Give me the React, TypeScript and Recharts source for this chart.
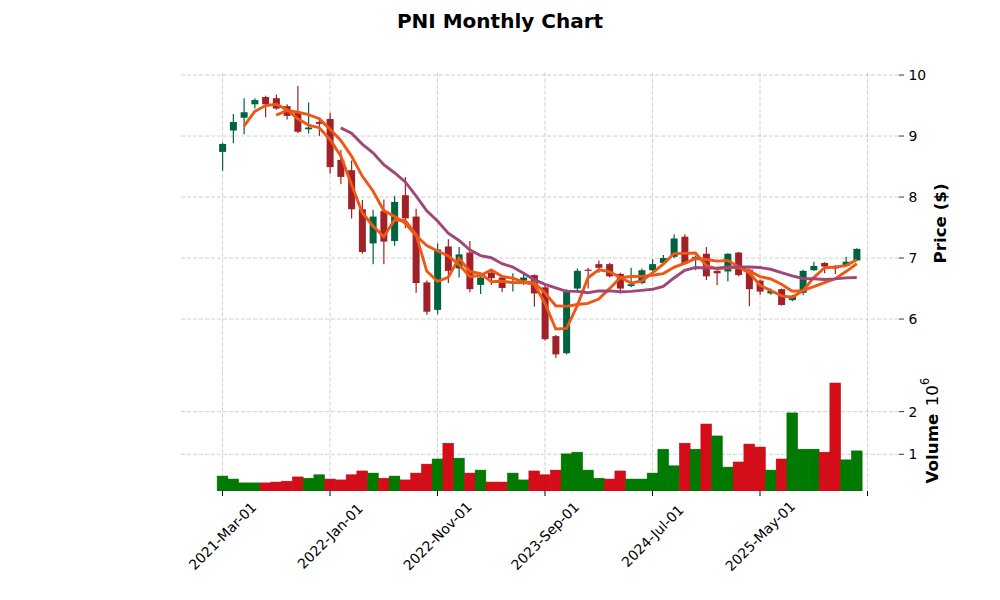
import React from 'react';
import { ComposedChart, Bar, Line, XAxis, YAxis, CartesianGrid } from 'recharts';

// ---------- data ----------
const months = [
  '2021-Mar-01', '2021-Apr-01', '2021-May-01', '2021-Jun-01', '2021-Jul-01', '2021-Aug-01', '2021-Sep-01', '2021-Oct-01', '2021-Nov-01', '2021-Dec-01',
  '2022-Jan-01', '2022-Feb-01', '2022-Mar-01', '2022-Apr-01', '2022-May-01', '2022-Jun-01', '2022-Jul-01', '2022-Aug-01', '2022-Sep-01', '2022-Oct-01', '2022-Nov-01', '2022-Dec-01',
  '2023-Jan-01', '2023-Feb-01', '2023-Mar-01', '2023-Apr-01', '2023-May-01', '2023-Jun-01', '2023-Jul-01', '2023-Aug-01', '2023-Sep-01', '2023-Oct-01', '2023-Nov-01', '2023-Dec-01',
  '2024-Jan-01', '2024-Feb-01', '2024-Mar-01', '2024-Apr-01', '2024-May-01', '2024-Jun-01', '2024-Jul-01', '2024-Aug-01', '2024-Sep-01', '2024-Oct-01', '2024-Nov-01', '2024-Dec-01',
  '2025-Jan-01', '2025-Feb-01', '2025-Mar-01', '2025-Apr-01', '2025-May-01', '2025-Jun-01', '2025-Jul-01', '2025-Aug-01', '2025-Sep-01', '2025-Oct-01', '2025-Nov-01', '2025-Dec-01',
  '2026-Jan-01', '2026-Feb-01',
];

const opens = [
  8.74, 9.09, 9.30, 9.52, 9.64, 9.62, 9.49, 9.40, 9.11, 9.23,
  9.28, 8.61, 8.44, 7.80, 7.24, 7.77, 7.28, 8.03, 7.68, 6.60,
  6.15, 7.19, 6.83, 7.09, 6.56, 6.76, 6.68, 6.59, 6.63, 6.72,
  6.52, 5.72, 5.44, 6.50, 6.81, 6.90, 6.90, 6.74, 6.54, 6.59,
  6.80, 6.92, 7.02, 7.35, 6.97, 7.07, 6.79, 6.78, 7.09, 6.81,
  6.63, 6.42, 6.49, 6.31, 6.43, 6.80, 6.92, 6.87, 6.87, 6.96,
];
const highs = [
  8.89, 9.36, 9.62, 9.62, 9.66, 9.68, 9.52, 9.82, 9.55, 9.30,
  9.38, 8.77, 8.60, 7.95, 7.79, 7.96, 8.02, 8.33, 7.81, 6.63,
  7.24, 7.31, 7.18, 7.28, 6.70, 6.80, 6.71, 6.75, 6.75, 6.73,
  6.56, 5.74, 6.49, 6.83, 6.84, 6.96, 6.92, 6.76, 6.84, 6.83,
  6.98, 7.05, 7.39, 7.39, 7.04, 7.18, 6.80, 7.08, 7.10, 6.83,
  6.65, 6.50, 6.50, 6.40, 6.81, 6.94, 6.93, 6.88, 7.02, 7.16,
];
const lows = [
  8.43, 8.88, 9.03, 9.45, 9.31, 9.43, 9.27, 9.05, 9.04, 9.00,
  8.38, 8.21, 7.65, 7.07, 6.90, 6.90, 7.20, 7.49, 6.43, 6.07,
  6.08, 6.59, 6.68, 6.44, 6.41, 6.56, 6.44, 6.45, 6.56, 6.20,
  5.65, 5.36, 5.42, 6.46, 6.50, 6.76, 6.68, 6.42, 6.52, 6.57,
  6.78, 6.90, 7.00, 6.89, 6.80, 6.64, 6.56, 6.62, 6.70, 6.21,
  6.40, 6.40, 6.22, 6.29, 6.39, 6.79, 6.75, 6.74, 6.86, 6.95,
];
const closes = [
  8.87, 9.23, 9.39, 9.59, 9.52, 9.45, 9.33, 9.07, 9.14, 9.20,
  8.49, 8.33, 7.80, 7.10, 7.68, 7.27, 7.92, 7.65, 6.59, 6.12,
  7.14, 6.79, 7.06, 6.49, 6.68, 6.67, 6.51, 6.61, 6.68, 6.42,
  5.67, 5.42, 6.45, 6.79, 6.79, 6.84, 6.70, 6.50, 6.57, 6.80,
  6.90, 7.00, 7.32, 6.91, 7.02, 6.70, 6.75, 7.07, 6.72, 6.49,
  6.45, 6.46, 6.23, 6.38, 6.79, 6.87, 6.86, 6.83, 6.94, 7.15,
];
// volume in millions of shares
const volumes = [
  0.49, 0.42, 0.33, 0.33, 0.33, 0.35, 0.37, 0.47, 0.44, 0.52,
  0.42, 0.40, 0.52, 0.61, 0.56, 0.44, 0.49, 0.40, 0.56, 0.77,
  0.89, 1.26, 0.91, 0.56, 0.63, 0.35, 0.35, 0.56, 0.40, 0.61,
  0.52, 0.63, 1.01, 1.05, 0.63, 0.44, 0.42, 0.61, 0.42, 0.42,
  0.56, 1.12, 0.73, 1.26, 1.12, 1.71, 1.43, 0.70, 0.82, 1.24,
  1.17, 0.63, 0.89, 1.97, 1.12, 1.12, 1.05, 2.67, 0.87, 1.08,
];

const xTicks = [0, 10, 20, 30, 40, 50, 60];
const priceTicks = [6, 7, 8, 9, 10];
const volumeTicks = [1, 2];
const maWindows = [3, 6, 12];

// ---------- style ----------
const FONT = '"DejaVu Sans", sans-serif';
const UP = '#006340';
const DOWN = '#a02128';
const VOL_UP = '#007a00';
const VOL_DOWN = '#d50d18';
const MA_COLORS = ['#ef5714', '#ef5714', '#9f4878'];
const GRID = '#c4c4c4';
const X_DOMAIN: [number, number] = [-3.86, 62.93];
const PRICE_DOMAIN: [number, number] = [5.14, 10.04];
const VOL_DOMAIN: [number, number] = [0.14, 2.94];
const TICK_FONT = 13.9;

const movingAverage = (vals: number[], w: number, i: number) => {
  if (i < w - 1) return null;
  let s = 0;
  for (let k = i - w + 1; k <= i; k++) s += vals[k];
  return s / w;
};

const rows = months.map((m, i) => ({
  i,
  date: m,
  open: opens[i],
  high: highs[i],
  low: lows[i],
  close: closes[i],
  vol: volumes[i],
  volUp: i === 0 ? closes[i] >= opens[i] : closes[i] >= closes[i - 1],
  ma0: movingAverage(closes, maWindows[0], i),
  ma1: movingAverage(closes, maWindows[1], i),
  ma2: movingAverage(closes, maWindows[2], i),
}));

const scaleOf = (axis: any) => {
  const s = axis && axis.scale;
  if (!s) return null;
  if (typeof s === 'function') return s;
  if (typeof s.map === 'function') return (v: number) => s.map(v);
  return null;
};

const makeHGen = (ticks: number[], domain: [number, number]) => (p: any) => {
  const sc = scaleOf(p.yAxis);
  if (sc) return ticks.map((t) => sc(t));
  const { top, height } = p.offset;
  return ticks.map((t) => top + ((domain[1] - t) / (domain[1] - domain[0])) * height);
};
const vGen = (p: any) => {
  const sc = scaleOf(p.xAxis);
  if (sc) return xTicks.map((t) => sc(t));
  const { left, width } = p.offset;
  return xTicks.map((t) => left + ((t - X_DOMAIN[0]) / (X_DOMAIN[1] - X_DOMAIN[0])) * width);
};

const Candle = (props: any) => {
  const { x, y, width, height, payload } = props;
  if (!payload) return null;
  const { open, close, high, low } = payload;
  const color = close >= open ? UP : DOWN;
  const ppu = height / (high - low);
  const cx = x + width / 2;
  const top = y + (high - Math.max(open, close)) * ppu;
  const bh = Math.max(Math.abs(close - open) * ppu, 1.2);
  return (
    <g>
      <line x1={cx} x2={cx} y1={y} y2={y + height} stroke={color} strokeWidth={1.2} />
      <rect x={x} y={top} width={width} height={bh} fill={color} />
    </g>
  );
};

const VolBar = (props: any) => {
  const { x, y, width, height, payload } = props;
  if (!payload) return null;
  const up = payload.volUp;
  return (
    <rect
      x={x}
      y={y}
      width={width}
      height={height}
      fill={up ? VOL_UP : VOL_DOWN}
      stroke={up ? '#006a00' : '#b80a14'}
      strokeWidth={0.5}
    />
  );
};

const DateTick = (props: any) => {
  const { x, payload } = props;
  const idx = payload.value;
  const label = months[idx];
  if (!label) return null;
  return (
    <text
      transform={`translate(${x},536) rotate(-45)`}
      textAnchor="middle"
      dominantBaseline="central"
      fontSize={TICK_FONT}
      fontFamily={FONT}
      fill="#000"
    >
      {label}
    </text>
  );
};

const tickStyle = { fontSize: TICK_FONT, fontFamily: FONT, fill: '#000' };

export default function App() {
  return (
    <div style={{ position: 'absolute', left: 0, top: 0, width: 1000, height: 600, background: '#fff' }}>
      {/* price panel */}
      <div style={{ position: 'absolute', left: 0, top: 0 }}>
        <ComposedChart
          width={1000}
          height={372}
          data={rows}
          margin={{ top: 72.6, right: 0, bottom: 0.5, left: 181 }}
        >
          <CartesianGrid
            stroke={GRID}
            strokeWidth={0.8}
            strokeDasharray="4 2"
            horizontalCoordinatesGenerator={makeHGen(priceTicks, PRICE_DOMAIN)}
            verticalCoordinatesGenerator={vGen}
          />
          <XAxis
            dataKey="i"
            type="number"
            domain={X_DOMAIN}
            allowDataOverflow
            ticks={xTicks}
            interval={0}
            height={0}
            tick={false}
            tickLine={false}
            axisLine={false}
          />
          <YAxis
            orientation="right"
            type="number"
            domain={PRICE_DOMAIN}
            allowDataOverflow
            ticks={priceTicks}
            interval={0}
            width={101}
            axisLine={false}
            tickLine={{ stroke: '#000', strokeWidth: 0.8 }}
            tickSize={5}
            tickMargin={4.5}
            tick={tickStyle}
          />
          <Bar
            dataKey={(d: any) => [d.low, d.high]}
            barSize={7}
            shape={<Candle />}
            isAnimationActive={false}
          />
          {maWindows.map((w, k) => (
            <Line
              key={w}
              dataKey={`ma${k}`}
              type="linear"
              stroke={MA_COLORS[k]}
              strokeWidth={2.9}
              dot={false}
              activeDot={false}
              connectNulls={false}
              isAnimationActive={false}
            />
          ))}
        </ComposedChart>
      </div>

      {/* volume panel */}
      <div style={{ position: 'absolute', left: 0, top: 0 }}>
        <ComposedChart
          width={1000}
          height={600}
          data={rows}
          margin={{ top: 371.5, right: 0, bottom: 0, left: 181 }}
        >
          <CartesianGrid
            stroke={GRID}
            strokeWidth={0.8}
            strokeDasharray="4 2"
            horizontalCoordinatesGenerator={makeHGen(volumeTicks, VOL_DOMAIN)}
            verticalCoordinatesGenerator={vGen}
          />
          <XAxis
            dataKey="i"
            type="number"
            domain={X_DOMAIN}
            allowDataOverflow
            ticks={xTicks}
            interval={0}
            height={109}
            axisLine={false}
            tickLine={{ stroke: '#000', strokeWidth: 1 }}
            tickSize={5}
            tick={<DateTick />}
          />
          <YAxis
            orientation="right"
            type="number"
            domain={VOL_DOMAIN}
            allowDataOverflow
            ticks={volumeTicks}
            interval={0}
            width={101}
            axisLine={false}
            tickLine={{ stroke: '#000', strokeWidth: 0.8 }}
            tickSize={5}
            tickMargin={4.5}
            tick={tickStyle}
          />
          <Bar dataKey="vol" barSize={10.75} shape={<VolBar />} isAnimationActive={false} />
        </ComposedChart>
      </div>

      {/* titles and axis labels */}
      <svg
        width={1000}
        height={600}
        style={{ position: 'absolute', left: 0, top: 0, pointerEvents: 'none' }}
      >
        <text x={500} y={27.7} textAnchor="middle" fontSize={20} fontWeight="bold" fontFamily={FONT} fill="#000">
          PNI Monthly Chart
        </text>
        <text
          transform="translate(940,223.5) rotate(-90)"
          textAnchor="middle"
          dominantBaseline="central"
          fontSize={16.7}
          fontWeight="bold"
          fontFamily={FONT}
          fill="#000"
        >
          Price ($)
        </text>
        <text
          transform="translate(932,448.5) rotate(-90)"
          textAnchor="middle"
          dominantBaseline="central"
          fontSize={16.7}
          fontWeight="bold"
          fontFamily={FONT}
          fill="#000"
        >
          Volume
        </text>
        <text
          transform="translate(932,392) rotate(-90)"
          textAnchor="middle"
          dominantBaseline="central"
          fontSize={16.7}
          fontFamily={FONT}
          fill="#000"
        >
          10
          <tspan fontSize={11.5} dy={-7}>6</tspan>
        </text>
      </svg>
    </div>
  );
}
